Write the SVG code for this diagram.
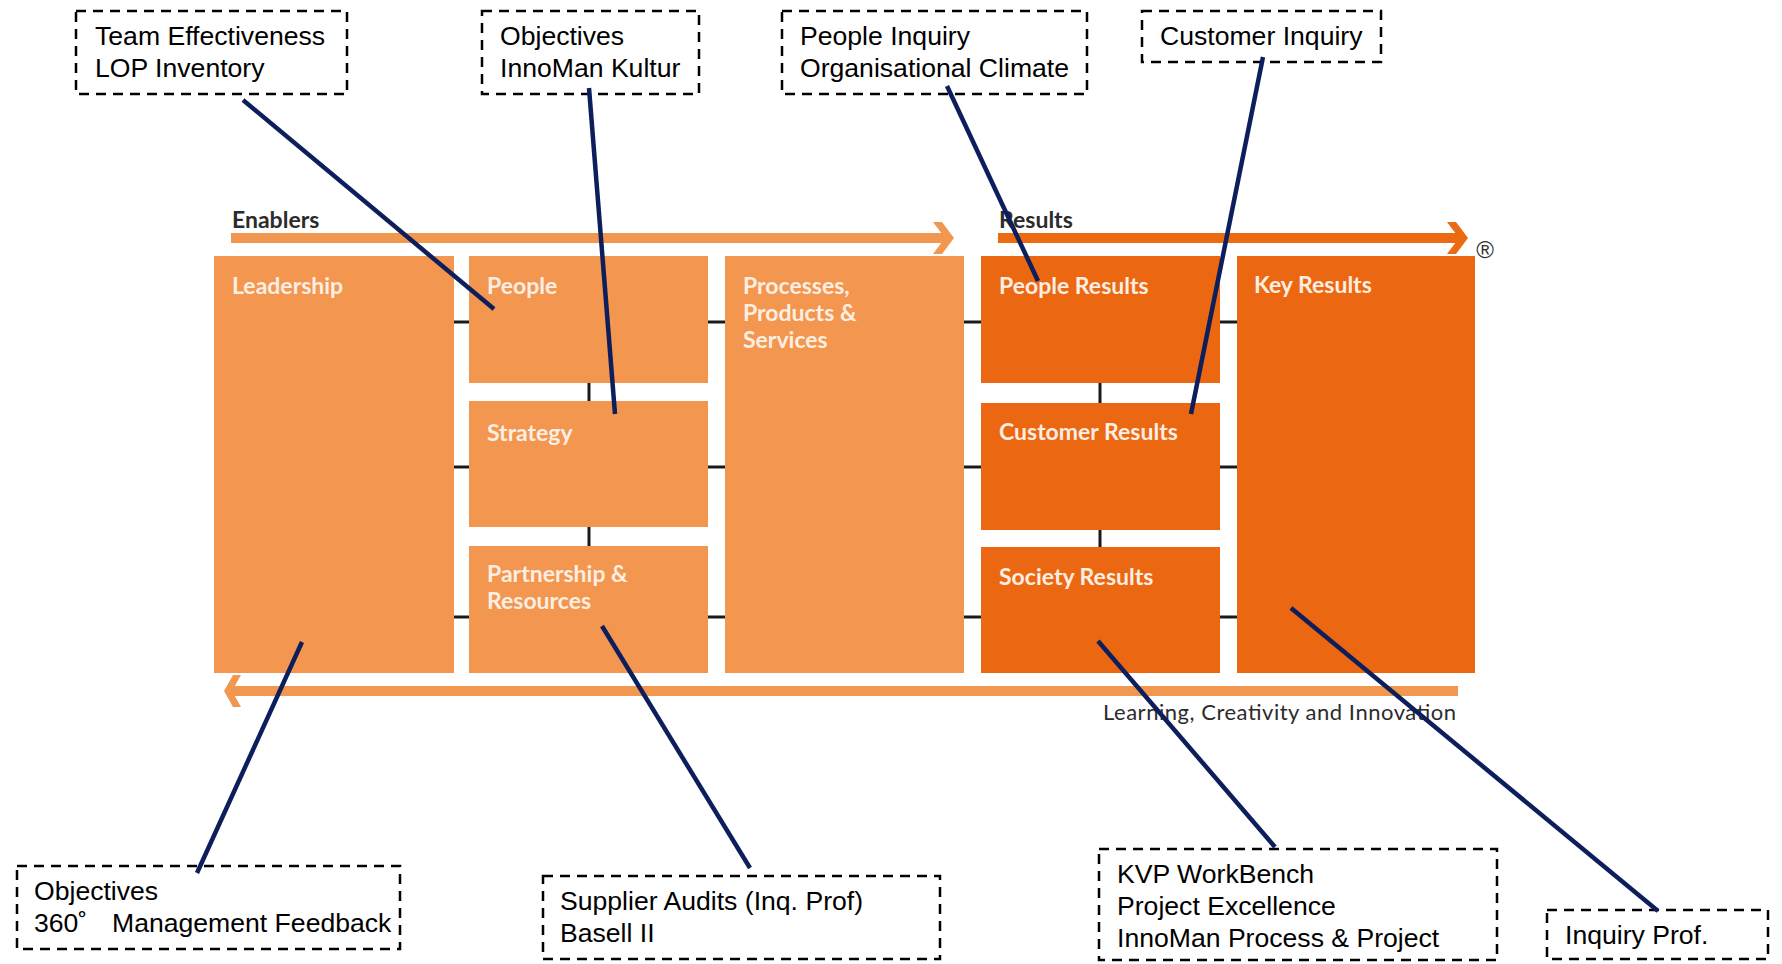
<svg xmlns="http://www.w3.org/2000/svg" width="1782" height="964" viewBox="0 0 1782 964">
<style>
.en{fill:#F3964F}
.rs{fill:#EC6711}
.lbl{font-family:Lato,"Open Sans",sans-serif;font-weight:700;font-size:23px;fill:#FDEEE2}
.hd{font-family:Lato,"Open Sans",sans-serif;font-weight:700;font-size:23px;fill:#2B2B2B}
.ann{fill:none;stroke:#000;stroke-width:2.5;stroke-dasharray:10 7}
.at{font-family:"Liberation Sans",Arial,sans-serif;font-size:26.6px;fill:#000}
.tick{stroke:#1A1A1A;stroke-width:3}
.lead{stroke:#0C1F5C;stroke-width:4.5;stroke-linecap:butt}
</style>
<rect width="1782" height="964" fill="#fff"/>
<g id="flow-arrows">
  <g id="enablers-arrow">
    <text class="hd" x="232" y="228">Enablers</text>
    <rect x="231" y="233" width="716" height="10" fill="#F2974F"/>
    <polygon points="933,222 942,222 954,238 942,254 933,254 945,238" fill="#F2974F"/>
  </g>
  <g id="results-arrow">
    <text class="hd" x="999" y="228">Results</text>
    <rect x="998" y="233" width="462" height="10" fill="#EB6A12"/>
    <polygon points="1447,222 1456,222 1468,238 1456,254 1447,254 1459,238" fill="#EB6A12"/>
    <text x="1485" y="258" text-anchor="middle" font-family="'Liberation Sans',Arial,sans-serif" font-size="24" fill="#333">®</text>
  </g>
  <g id="learning-arrow">
    <rect x="232" y="686" width="1226" height="10" fill="#F2974F"/>
    <polygon points="241,675 233,675 224,691 233,707 241,707 232,691" fill="#F2974F"/>
    <text x="1103" y="720" font-family="Lato,'Open Sans',sans-serif" font-size="22" fill="#2B2B2B" textLength="353">Learning, Creativity and Innovation</text>
  </g>
</g>
<g id="leadership"><rect class="en" x="214" y="256" width="240" height="417"/><text class="lbl" x="232" y="294">Leadership</text></g>
<g id="people"><rect class="en" x="469" y="256" width="239" height="127"/><text class="lbl" x="487" y="294">People</text></g>
<g id="strategy"><rect class="en" x="469" y="401" width="239" height="126"/><text class="lbl" x="487" y="441">Strategy</text></g>
<g id="partnership"><rect class="en" x="469" y="546" width="239" height="127"/><text class="lbl" x="487" y="582">Partnership &amp;</text><text class="lbl" x="487" y="609">Resources</text></g>
<g id="processes"><rect class="en" x="725" y="256" width="239" height="417"/><text class="lbl" x="743" y="294">Processes,</text><text class="lbl" x="743" y="321">Products &amp;</text><text class="lbl" x="743" y="348">Services</text></g>
<g id="people-results"><rect class="rs" x="981" y="256" width="239" height="127"/><text class="lbl" x="999" y="294">People Results</text></g>
<g id="customer-results"><rect class="rs" x="981" y="403" width="239" height="127"/><text class="lbl" x="999" y="440">Customer Results</text></g>
<g id="society-results"><rect class="rs" x="981" y="547" width="239" height="126"/><text class="lbl" x="999" y="585">Society Results</text></g>
<g id="key-results"><rect class="rs" x="1237" y="256" width="238" height="417"/><text class="lbl" x="1254" y="293">Key Results</text></g>

<g id="ann-team"><rect class="ann" x="76" y="11" width="271" height="83"/><text class="at" x="95" y="45">Team Effectiveness</text><text class="at" x="95" y="77">LOP Inventory</text></g>
<g id="ann-objectives-kultur"><rect class="ann" x="482" y="11" width="217" height="83"/><text class="at" x="500" y="45">Objectives</text><text class="at" x="500" y="77">InnoMan Kultur</text></g>
<g id="ann-people-inquiry"><rect class="ann" x="782" y="11" width="305" height="83"/><text class="at" x="800" y="45">People Inquiry</text><text class="at" x="800" y="77">Organisational Climate</text></g>
<g id="ann-customer-inquiry"><rect class="ann" x="1142" y="11" width="239" height="51"/><text class="at" x="1160" y="45">Customer Inquiry</text></g>
<g id="ann-objectives-360"><rect class="ann" x="17" y="866" width="383" height="83"/><text class="at" y="900"><tspan x="34">Objectives</tspan></text><text class="at" y="932"><tspan x="34">360˚</tspan><tspan x="112">Management Feedback</tspan></text></g>
<g id="ann-supplier"><rect class="ann" x="543" y="876" width="397" height="83"/><text class="at" x="560" y="910">Supplier Audits (Inq. Prof)</text><text class="at" x="560" y="942">Basell II</text></g>
<g id="ann-kvp"><rect class="ann" x="1099" y="849" width="398" height="111"/><text class="at" x="1117" y="883">KVP WorkBench</text><text class="at" x="1117" y="915">Project Excellence</text><text class="at" x="1117" y="947">InnoMan Process &amp; Project</text></g>
<g id="ann-inquiry-prof"><rect class="ann" x="1547" y="910" width="221" height="49"/><text class="at" x="1565" y="944">Inquiry Prof.</text></g>

<g id="connectors">
  <g id="ticks">
    <line class="tick" x1="454" y1="322" x2="469" y2="322"/><line class="tick" x1="708" y1="322" x2="725" y2="322"/><line class="tick" x1="964" y1="322" x2="981" y2="322"/><line class="tick" x1="1220" y1="322" x2="1237" y2="322"/>
    <line class="tick" x1="454" y1="467" x2="469" y2="467"/><line class="tick" x1="708" y1="467" x2="725" y2="467"/><line class="tick" x1="964" y1="467" x2="981" y2="467"/><line class="tick" x1="1220" y1="467" x2="1237" y2="467"/>
    <line class="tick" x1="454" y1="617" x2="469" y2="617"/><line class="tick" x1="708" y1="617" x2="725" y2="617"/><line class="tick" x1="964" y1="617" x2="981" y2="617"/><line class="tick" x1="1220" y1="617" x2="1237" y2="617"/>
    <line class="tick" x1="589" y1="383" x2="589" y2="401"/><line class="tick" x1="589" y1="527" x2="589" y2="546"/>
    <line class="tick" x1="1100" y1="383" x2="1100" y2="403"/><line class="tick" x1="1100" y1="530" x2="1100" y2="547"/>
  </g>
  <line class="lead" x1="243" y1="100" x2="494" y2="309"/>
  <line class="lead" x1="589" y1="88" x2="615" y2="414"/>
  <line class="lead" x1="947" y1="86" x2="1038" y2="281"/>
  <line class="lead" x1="1263" y1="57" x2="1191" y2="414"/>
  <line class="lead" x1="197" y1="873" x2="302" y2="642"/>
  <line class="lead" x1="750" y1="868" x2="602" y2="626"/>
  <line class="lead" x1="1275" y1="847" x2="1098" y2="641"/>
  <line class="lead" x1="1658" y1="911" x2="1291" y2="608"/>
</g>
</svg>
